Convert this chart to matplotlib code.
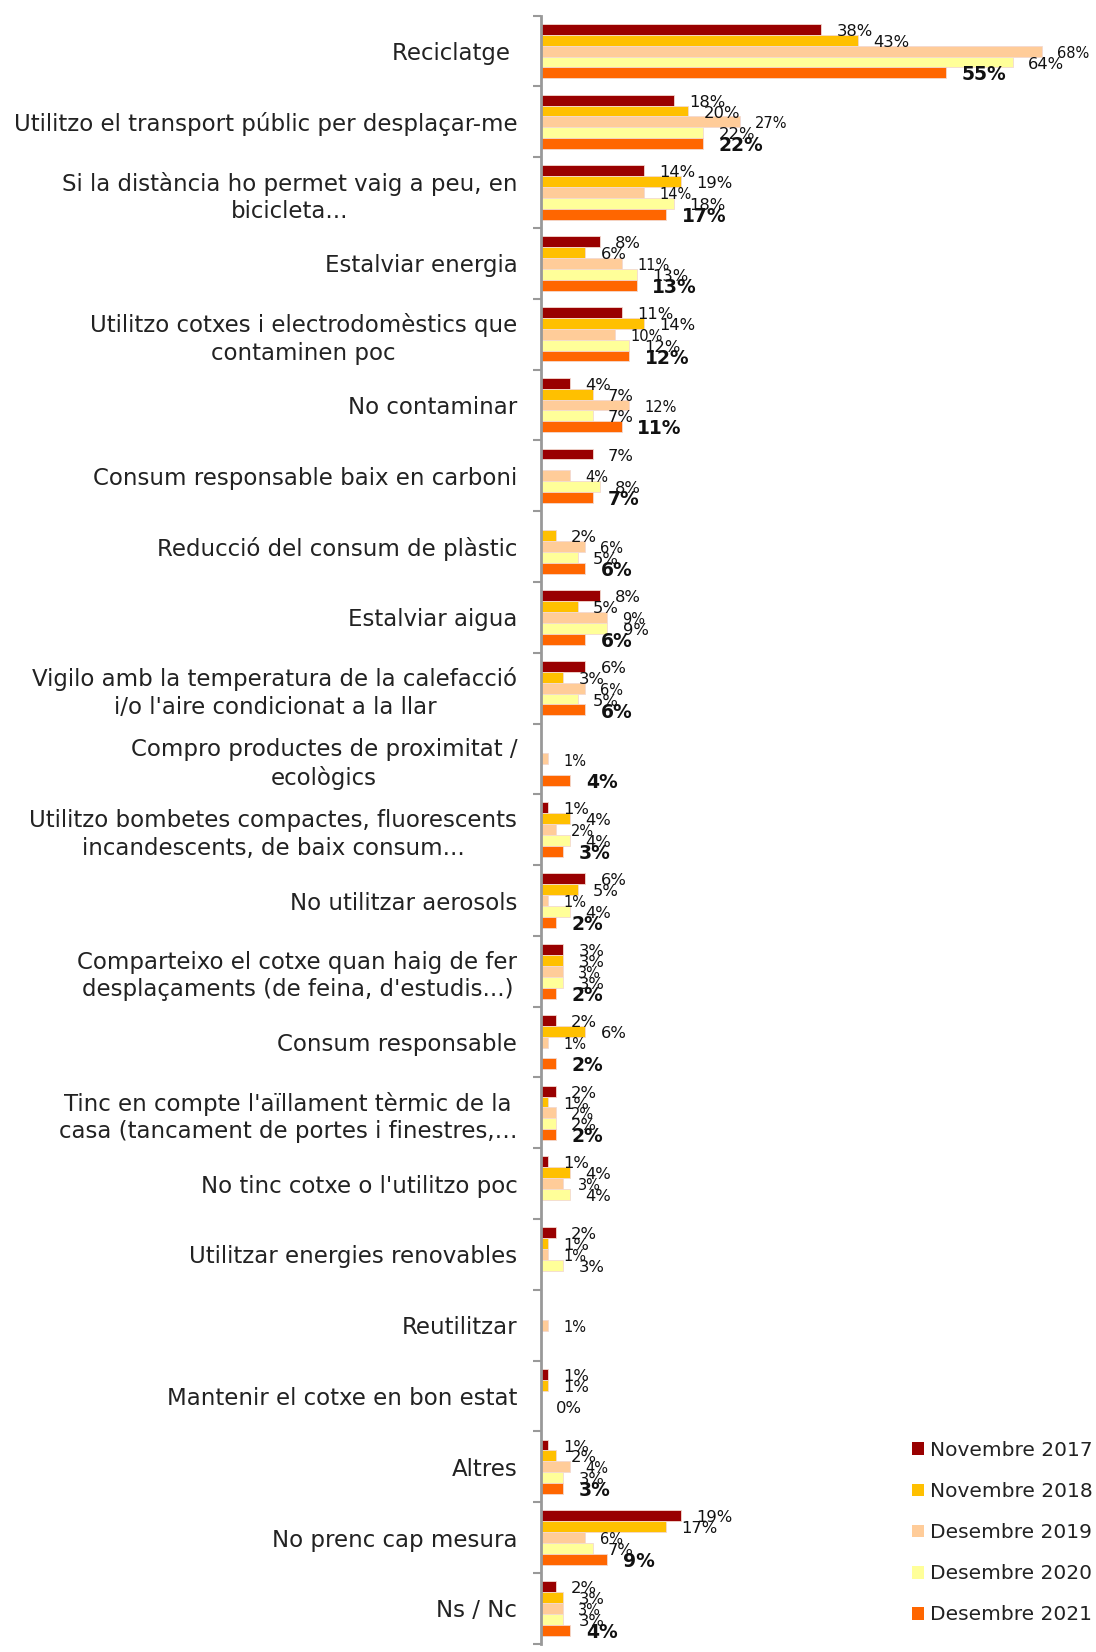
import numpy as np
import matplotlib
matplotlib.use("Agg")
import matplotlib.pyplot as plt
from matplotlib.patches import Patch

plt.rcParams['font.family'] = ['DejaVu Sans']

categories = [
    "Reciclatge ",
    "Utilitzo el transport públic per desplaçar-me",
    "Si la distància ho permet vaig a peu, en\nbicicleta...",
    "Estalviar energia",
    "Utilitzo cotxes i electrodomèstics que\ncontaminen poc",
    "No contaminar",
    "Consum responsable baix en carboni",
    "Reducció del consum de plàstic",
    "Estalviar aigua",
    "Vigilo amb la temperatura de la calefacció\ni/o l'aire condicionat a la llar",
    "Compro productes de proximitat /\necològics",
    "Utilitzo bombetes compactes, fluorescents\nincandescents, de baix consum...",
    "No utilitzar aerosols",
    "Comparteixo el cotxe quan haig de fer\ndesplaçaments (de feina, d'estudis...)",
    "Consum responsable",
    "Tinc en compte l'aïllament tèrmic de la\ncasa (tancament de portes i finestres,…",
    "No tinc cotxe o l'utilitzo poc",
    "Utilitzar energies renovables",
    "Reutilitzar",
    "Mantenir el cotxe en bon estat",
    "Altres",
    "No prenc cap mesura",
    "Ns / Nc",
]

nan = np.nan
nov2017 = [38, 18, 14, 8, 11, 4, 7, nan, 8, 6, nan, 1, 6, 3, 2, 2, 1, 2, nan, 1, 1, 19, 2]
nov2018 = [43, 20, 19, 6, 14, 7, nan, 2, 5, 3, nan, 4, 5, 3, 6, 1, 4, 1, nan, 1, 2, 17, 3]
des2019 = [68, 27, 14, 11, 10, 12, 4, 6, 9, 6, 1, 2, 1, 3, 1, 2, 3, 1, 1, nan, 4, 6, 3]
des2020 = [64, 22, 18, 13, 12, 7, 8, 5, 9, 5, nan, 4, 4, 3, nan, 2, 4, 3, nan, 0, 3, 7, 3]
des2021 = [55, 22, 17, 13, 12, 11, 7, 6, 6, 6, 4, 3, 2, 2, 2, 2, nan, nan, nan, nan, 3, 9, 4]

series = ["Novembre 2017", "Novembre 2018", "Desembre 2019", "Desembre 2020", "Desembre 2021"]
values = [nov2017, nov2018, des2019, des2020, des2021]
colors = ["#990000", "#FFC000", "#FFCC99", "#FFFF99", "#FF6600"]

fig = plt.figure(figsize=(10.96, 16.52), dpi=100)
ax = fig.add_axes([0.4936, 0.005, 0.9945 - 0.4936, 0.9905 - 0.005])

y = np.arange(len(categories))
h = 0.154
for i, (name, vals, col) in enumerate(zip(series, values, colors)):
    vals = np.array(vals, dtype=float)
    pos = y + (i - 2) * h
    ax.barh(pos, np.nan_to_num(vals), height=h, color=col,
            edgecolor="#f3d9d0", linewidth=0.6, label=name)
    for p, v in zip(pos, vals):
        if np.isnan(v):
            continue
        if i == 4:
            kw = dict(fontsize=13.5, fontweight="bold")
        elif i == 2:
            kw = dict(fontsize=10.5)
        else:
            kw = dict(fontsize=11.8)
        ax.annotate(f"{int(v)}%", (v, p), xytext=(11, -1.5),
                    textcoords="offset points", va="center", ha="left",
                    color="#111111", **kw)

ax.set_xlim(0, 74.5)
ax.set_ylim(len(categories) - 0.5, -0.5)
ax.set_yticks(y)
ax.set_yticklabels(categories, fontsize=16.5, color="#222222",
                   multialignment="center", linespacing=1.25)
ax.tick_params(axis="y", which="major", length=0, pad=17)
ax.set_yticks(np.arange(len(categories) + 1) - 0.5, minor=True)
ax.tick_params(axis="y", which="minor", length=6, width=1.5, color="#999999")
ax.set_xticks([])
for s in ["top", "right", "bottom"]:
    ax.spines[s].set_visible(False)
ax.spines["left"].set_color("#999999")
ax.spines["left"].set_linewidth(2)

handles = [Patch(facecolor=c, edgecolor="none") for c in colors]
fig.legend(handles, series, loc="lower right", bbox_to_anchor=(1.014, 0.0057),
           frameon=False, fontsize=14.5, handlelength=0.6, handleheight=0.6,
           handletextpad=0.3, labelspacing=1.1, labelcolor="#222222")

fig.savefig("out.png", dpi=100)
